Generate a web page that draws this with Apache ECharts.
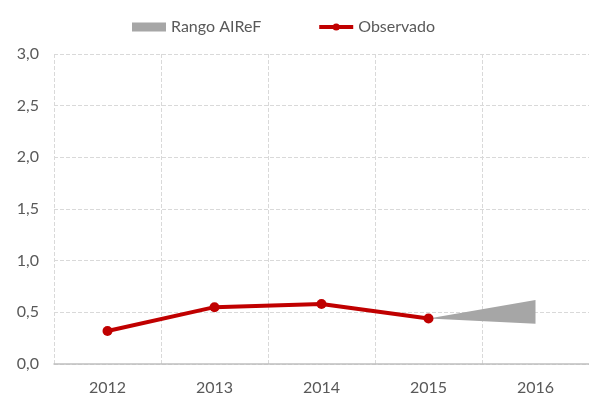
<!DOCTYPE html>
<html>
<head>
<meta charset="utf-8">
<script src="https://cdn.jsdelivr.net/npm/echarts@6/dist/echarts.min.js"></script>
<style>
  html, body { margin: 0; padding: 0; background: #fff; }
  #chart { width: 589px; height: 400px; }
</style>
</head>
<body>
<div id="chart"></div>
<script>
  // datos
  var years = ['2012', '2013', '2014', '2015', '2016'];
  var observado = [0.32, 0.55, 0.58, 0.44, null];
  // rango AIReF: base inferior + amplitud
  var rangoBase = [null, null, null, 0.44, 0.39];
  var rangoAncho = [null, null, null, 0, 0.23];
  var yTicks = [0, 0.5, 1, 1.5, 2, 2.5, 3];

  var textColor = '#595959';
  var font = 'Lato';

  var chart = echarts.init(document.getElementById('chart'));
  chart.setOption({
    animation: false,
    textStyle: { fontFamily: font },
    legend: {
      top: 14,
      left: 127,
      itemGap: 56,
      itemWidth: 34,
      itemHeight: 9,
      textStyle: { fontFamily: font, fontSize: 16, color: textColor },
      data: [
        { name: 'Rango AIReF', icon: 'rect' },
        { name: 'Observado', lineStyle: { width: 4 } }
      ]
    },
    grid: { left: 54, right: -1, top: 54, bottom: 36 },
    xAxis: {
      type: 'category',
      data: years,
      boundaryGap: true,
      axisLine: { lineStyle: { color: '#bfbfbf', width: 1.5 } },
      axisTick: { show: false },
      axisLabel: { color: textColor, fontSize: 16, fontFamily: font, margin: 16 },
      splitLine: { show: true, lineStyle: { color: '#d9d9d9', type: 'dashed' } }
    },
    yAxis: {
      type: 'value',
      min: yTicks[0],
      max: yTicks[yTicks.length - 1],
      interval: 0.5,
      axisLine: { show: false },
      axisTick: { show: false },
      axisLabel: {
        color: textColor, fontSize: 16, fontFamily: font, margin: 15,
        formatter: function (v) { return v.toFixed(1).replace('.', ','); }
      },
      splitLine: { lineStyle: { color: '#d9d9d9', type: 'dashed' } }
    },
    series: [
      {
        name: 'base',
        type: 'line',
        stack: 'rango',
        data: rangoBase,
        symbol: 'none',
        lineStyle: { opacity: 0 },
        silent: true
      },
      {
        name: 'Rango AIReF',
        type: 'line',
        stack: 'rango',
        data: rangoAncho,
        symbol: 'none',
        itemStyle: { color: '#a6a6a6' },
        lineStyle: { opacity: 0 },
        areaStyle: { color: '#a6a6a6', opacity: 1 }
      },
      {
        name: 'Observado',
        type: 'line',
        data: observado,
        symbol: 'circle',
        symbolSize: 10,
        itemStyle: { color: '#c00000' },
        lineStyle: { color: '#c00000', width: 4 },
        z: 3
      }
    ]
  });
</script>
</body>
</html>
